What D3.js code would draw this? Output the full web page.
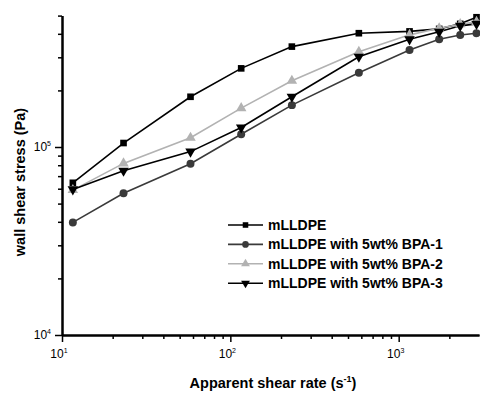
<!DOCTYPE html>
<html>
<head>
<meta charset="utf-8">
<script src="https://cdn.jsdelivr.net/npm/d3@7"></script>
<style>
    body { margin: 0; background: #fff; }
    svg { display: block; font-family: "Liberation Sans", Arial, sans-serif; }
</style>
</head>
<body>
<script>
(function(){

    //shear rates (s^-1)
    var shearRate = [11.6, 23.2, 58, 116, 232, 580, 1160, 1740, 2320, 2900];

    //wall shear stress (Pa) per sample
    var mLLDPE = [64500, 105000, 185000, 262000, 342000, 403000, 412000, 425000, 452000, 490000];
    var bpa1   = [39700, 56800, 81500, 117000, 167000, 248000, 328000, 374000, 394000, 403000];
    var bpa2   = [59000, 81800, 112000, 161000, 225000, 321000, 395000, 428000, 450000, 463000];
    var bpa3   = [59500, 74800, 94500, 127000, 185000, 302000, 374000, 410000, 441000, 452000];

    var seriesNames = ["mLLDPE", "mLLDPE with 5wt% BPA-1", "mLLDPE with 5wt% BPA-2", "mLLDPE with 5wt% BPA-3"];

    var xMajor = [10, 100, 1000];
    var xMinor = [20, 30, 40, 50, 60, 70, 80, 90, 200, 300, 400, 500, 600, 700, 800, 900, 2000];
    var yMajor = [1e4, 1e5];
    var yMinor = [2e4, 3e4, 4e4, 5e4, 6e4, 7e4, 8e4, 9e4, 2e5, 3e5, 4e5, 5e5];

    window.onload = drawChart();

    function drawChart(){
        var width = 480,
            height = 395;

        var svg = d3.select("body")
            .append("svg")
            .attr("width", width)
            .attr("height", height);

        var x = d3.scaleLog().domain([10, 3000]).range([62, 479]);
        var y = d3.scaleLog().domain([1e4, 5e5]).range([335, 15.6]);

        var series = [
            {name: seriesNames[0], values: mLLDPE, color: "#000", symbol: d3.symbolSquare, size: 44, rot: 0},
            {name: seriesNames[1], values: bpa1, color: "#3a3a3a", symbol: d3.symbolCircle, size: 50, rot: 0},
            {name: seriesNames[2], values: bpa2, color: "#b2b2b2", symbol: d3.symbolTriangle, size: 48, rot: 0},
            {name: seriesNames[3], values: bpa3, color: "#000", symbol: d3.symbolTriangle, size: 48, rot: 180}
        ];

        //axes: minor ticks short, major ticks long
        svg.append("g")
            .attr("transform", "translate(0,335)")
            .call(d3.axisBottom(x).tickValues(xMinor).tickSize(4).tickSizeOuter(0).tickFormat(""))
            .call(styleAxis);
        svg.append("g")
            .attr("transform", "translate(0,335)")
            .call(d3.axisBottom(x).tickValues(xMajor).tickSize(7).tickSizeOuter(0).tickFormat(""))
            .call(styleAxis);
        svg.append("g")
            .attr("transform", "translate(62,0)")
            .call(d3.axisLeft(y).tickValues(yMinor).tickSize(4).tickSizeOuter(0).tickFormat(""))
            .call(styleAxis);
        svg.append("g")
            .attr("transform", "translate(62,0)")
            .call(d3.axisLeft(y).tickValues(yMajor).tickSize(7).tickSizeOuter(0).tickFormat(""))
            .call(styleAxis);

        //power-of-ten labels
        xMajor.forEach(function(v){
            var t = svg.append("text")
                .attr("x", x(v) - 3)
                .attr("y", 358)
                .attr("text-anchor", "middle")
                .attr("font-size", 12);
            t.append("tspan").text("10");
            t.append("tspan").attr("dy", -5).attr("font-size", 7).text(Math.round(Math.log10(v)));
        });
        yMajor.forEach(function(v){
            var t = svg.append("text")
                .attr("x", 51)
                .attr("y", y(v) + 4)
                .attr("text-anchor", "end")
                .attr("font-size", 12);
            t.append("tspan").text("10");
            t.append("tspan").attr("dy", -5).attr("font-size", 7).text(Math.round(Math.log10(v)));
        });

        //axis titles
        var xt = svg.append("text")
            .attr("x", 273)
            .attr("y", 388)
            .attr("text-anchor", "middle")
            .attr("font-size", 14.5)
            .attr("font-weight", "bold");
        xt.append("tspan").text("Apparent shear rate (s");
        xt.append("tspan").attr("dy", -6).attr("font-size", 9).text("-1");
        xt.append("tspan").attr("dy", 6).text(")");

        svg.append("text")
            .attr("transform", "translate(25,182) rotate(-90)")
            .attr("text-anchor", "middle")
            .attr("font-size", 14.5)
            .attr("font-weight", "bold")
            .text("wall shear stress (Pa)");

        //series lines and markers
        var line = d3.line()
            .x(function(d, i){ return x(shearRate[i]); })
            .y(function(d){ return y(d); });

        series.forEach(function(s){
            svg.append("path")
                .datum(s.values)
                .attr("fill", "none")
                .attr("stroke", s.color)
                .attr("stroke-width", 1.6)
                .attr("d", line);
        });
        series.forEach(function(s){
            svg.selectAll(null)
                .data(s.values)
                .enter()
                .append("path")
                .attr("d", d3.symbol().type(s.symbol).size(s.size))
                .attr("transform", function(d, i){
                    return "translate(" + x(shearRate[i]) + "," + y(d) + ") rotate(" + s.rot + ")";
                })
                .attr("fill", s.color);
        });

        //legend
        var legend = svg.append("g");
        series.forEach(function(s, i){
            var ly = 225 + i * 19.4;
            legend.append("line")
                .attr("x1", 228).attr("x2", 263)
                .attr("y1", ly).attr("y2", ly)
                .attr("stroke", s.color)
                .attr("stroke-width", 1.6);
            legend.append("path")
                .attr("d", d3.symbol().type(s.symbol).size(s.size * 0.7))
                .attr("transform", "translate(245.5," + ly + ") rotate(" + s.rot + ")")
                .attr("fill", s.color);
            legend.append("text")
                .attr("x", 268)
                .attr("y", ly + 5)
                .attr("font-size", 14)
                .attr("font-weight", "bold")
                .text(s.name);
        });
    }

    function styleAxis(g){
        g.select(".domain").attr("stroke-width", 2).attr("stroke", "#000");
        g.selectAll(".tick line").attr("stroke-width", 1.5).attr("stroke", "#000");
    }

})();
</script>
</body>
</html>
